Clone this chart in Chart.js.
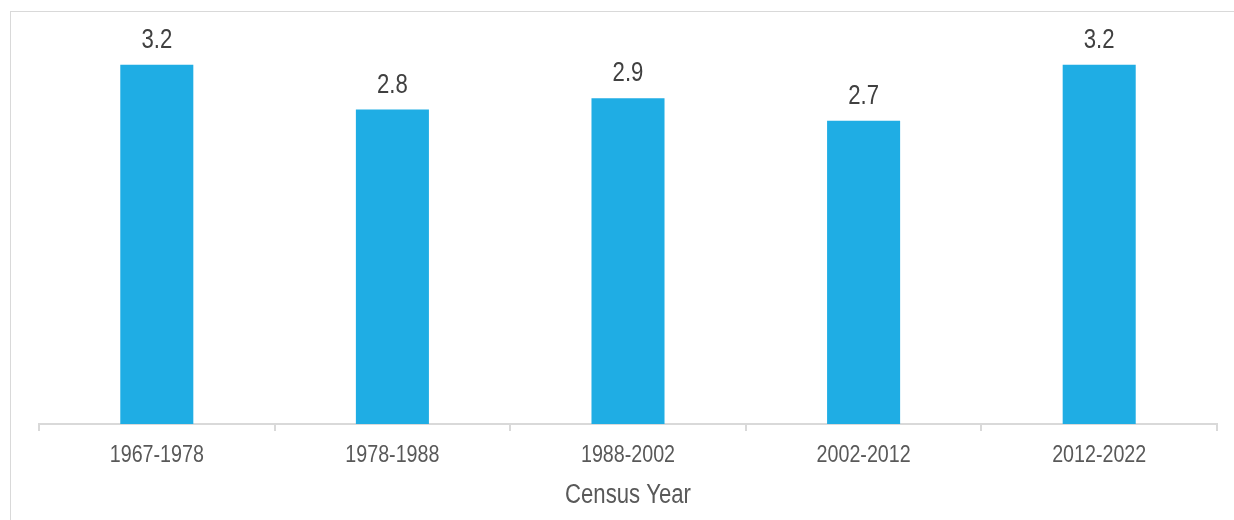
<!DOCTYPE html>
<html>
<head>
<meta charset="utf-8">
<script src="https://cdn.jsdelivr.net/npm/chart.js@4"></script>
<style>
  html, body { margin: 0; padding: 0; background: #fff; overflow: hidden; }
  #frame { position: absolute; left: 10px; top: 11px; width: 1260px; height: 560px; border: 1px solid #d9d9d9; }
  #wrap { position: absolute; left: 0; top: 0; width: 1234px; height: 520px; }
</style>
</head>
<body>
<div id="frame"></div>
<div id="wrap"><canvas id="myChart"></canvas></div>
<script>
var categories = ['1967-1978', '1978-1988', '1988-2002', '2002-2012', '2012-2022'];
var values = [3.2, 2.8, 2.9, 2.7, 3.2];
var axisTitle = 'Census Year';

// no narrow font installed, so squeeze Liberation Sans horizontally
var FONT = "'Liberation Sans', Arial, sans-serif";
var SQUEEZE = 0.82;

function narrowText(c, text, x, y, size, color) {
    c.save();
    c.font = size + 'px ' + FONT;
    c.fillStyle = color;
    c.textAlign = 'center';
    c.textBaseline = 'alphabetic';
    c.translate(x, y);
    c.scale(SQUEEZE, 1);
    c.fillText(text, 0, 0);
    c.restore();
}

// value labels above bars, tick labels and axis title
var textLayer = {
    id: 'textLayer',
    afterDatasetsDraw: function(chart) {
        var c = chart.ctx;
        var meta = chart.getDatasetMeta(0);
        var xs = chart.scales.x;
        var bottom = chart.chartArea.bottom;
        meta.data.forEach(function(bar, i) {
            narrowText(c, values[i].toFixed(1), bar.x, bar.y - 17, 27, '#404040');
        });
        categories.forEach(function(cat, i) {
            narrowText(c, cat, xs.getPixelForValue(i), bottom + 38, 24, '#595959');
        });
        narrowText(c, axisTitle, (chart.chartArea.left + chart.chartArea.right) / 2, bottom + 79, 27, '#595959');
    }
};

var ctx = document.getElementById('myChart');
var myChart = new Chart(ctx, {
    type: 'bar',
    data: {
        labels: categories,
        datasets: [{
            data: values,
            backgroundColor: '#1FADE4',
            barPercentage: 0.62,
            categoryPercentage: 0.5
        }]
    },
    options: {
        responsive: true,
        maintainAspectRatio: false,
        animation: false,
        layout: { padding: { left: 39, right: 17, top: 31, bottom: 89 } },
        plugins: {
            legend: { display: false },
            tooltip: { enabled: false }
        },
        scales: {
            y: {
                display: false,
                min: 0,
                max: 3.5
            },
            x: {
                grid: {
                    offset: true,
                    drawOnChartArea: false,
                    color: '#d9d9d9',
                    tickLength: 7,
                    lineWidth: 2
                },
                border: { color: '#d9d9d9', width: 2 },
                ticks: { display: false }
            }
        }
    },
    plugins: [textLayer]
});
</script>
</body>
</html>
